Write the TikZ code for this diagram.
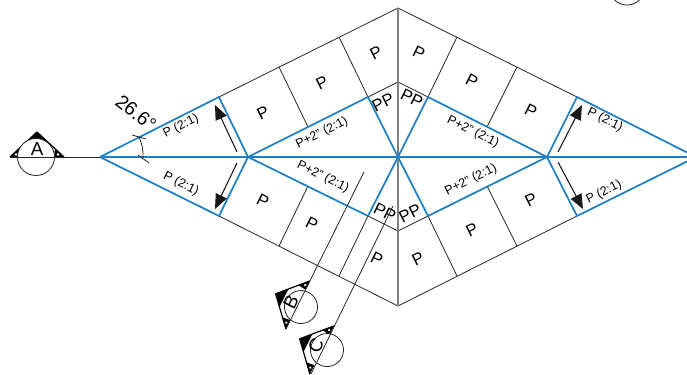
\documentclass[tikz,border=0pt]{standalone}
\usepackage{fontspec}
\setmainfont{Liberation Sans}
\usetikzlibrary{arrows.meta}
\definecolor{roofblue}{HTML}{1F7FC4}
\definecolor{ridgegray}{HTML}{808080}
\tikzset{
  thinline/.style={draw=black!85,line width=0.6pt},
  blueline/.style={draw=roofblue,line width=1.3pt,line join=round},
  centerline/.style={draw=ridgegray,line width=1.2pt},
  slopearrow/.style={draw=black!90,line width=0.8pt,-{Triangle[length=11pt,width=9pt]}},
  bigP/.style={font=\fontsize{12.5}{13}\selectfont,inner sep=0pt},
  pplabel/.style={font=\fontsize{12.5}{13}\selectfont,inner sep=0pt},
  slopelabel/.style={font=\fontsize{9.4}{10}\selectfont,inner sep=0pt},
  markletter/.style={font=\fontsize{14}{14}\selectfont,inner sep=0pt},
}
% local section mark: base on the x axis, apex upward
\newcommand{\secmark}[4]{%
  \begin{scope}[shift={(#1)},rotate=#2]
    \draw[black,line width=0.9pt,fill=white,line join=round] (-27,0) -- (0,-25) -- (27,0);
    \fill[black] (0,-25) -- (-10,-15.7) -- (10,-15.7) -- cycle;
    \fill[black] (-27,0) -- (-18,-8.4) -- (-17,0) -- cycle;
    \fill[black] (27,0) -- (18,-8.4) -- (17,0) -- cycle;
    \fill[white] (-21,-2.5) circle (1.3) (21,-2.5) circle (1.3);
    \draw[black!85,line width=0.6pt,fill=white] (#3) circle (#4);
  \end{scope}}
\begin{document}
\begin{tikzpicture}[x=0.75pt,y=-0.75pt]
\useasboundingbox (0,0) rectangle (687,375);
\clip (0,0) rectangle (687,375);
% key points
\coordinate (W) at (100,157);
\coordinate (IL) at (248,157);
\coordinate (Cn) at (398,157);
\coordinate (IR) at (547,157);
\coordinate (E) at (696,157);
\coordinate (T) at (398,8);
\coordinate (Bt) at (398,306);
\coordinate (UA) at (219,97);
\coordinate (UB) at (368,97);
\coordinate (UC) at (428,97);
\coordinate (UD) at (577,97);
\coordinate (LA) at (219,216);
\coordinate (LB) at (368,216);
\coordinate (LC) at (428,216);
\coordinate (LD) at (577,216);
\coordinate (UM) at (398,82);
\coordinate (LM) at (398,231);
\coordinate (Ax) at (10,157);
% section marks
\secmark{37,157}{0}{-1,0}{18.5}
\secmark{298,305}{63.4}{-0.5,3.6}{16.5}
\secmark{322,350}{63.4}{2.2,4.5}{16.5}
\coordinate (TRc) at (627,-13);
\draw[thinline] (TRc) circle (18);
% outline
\draw[thinline] (UA) -- (T) -- (UD);
\draw[thinline] (LA) -- (Bt) -- (LD);
\draw[thinline] (UB) -- (UM) -- (UC);
\draw[thinline] (LB) -- (LM) -- (LC);
% valleys
\coordinate (r1a) at (279,67); \coordinate (r1b) at (308,127);
\coordinate (r2a) at (339,37); 
\coordinate (r3a) at (457,37); 
\coordinate (r4a) at (517,67); \coordinate (r4b) at (487,127);
\coordinate (s1a) at (279,246); \coordinate (s1b) at (308,186);
\coordinate (s2a) at (339,276);
\coordinate (s3a) at (457,276);
\coordinate (s4a) at (517,246); \coordinate (s4b) at (487,186);
\draw[thinline] (r1a) -- (r1b) (r2a) -- (UB) (r3a) -- (UC) (r4a) -- (r4b);
\draw[thinline] (s1a) -- (s1b) (s2a) -- (LB) (s3a) -- (LC) (s4a) -- (s4b);
% axes
\draw[thinline] (Ax) -- (W);
\draw[centerline] (T) -- (Bt);
% blue roof lines
\draw[blueline] (W) -- (E);
\draw[blueline] (W) -- (UA) -- (IL) -- (UB) -- (Cn) -- (UC) -- (IR) -- (UD) -- (E);
\draw[blueline] (W) -- (LA) -- (IL) -- (LB) -- (Cn) -- (LC) -- (IR) -- (LD) -- (E);
% section lines
\coordinate (Ba) at (364,172); \coordinate (Bb) at (286,329);
\coordinate (Ca) at (393,206); \coordinate (Cb) at (311,374);
\draw[thinline] (Ba) -- (Bb);
\draw[thinline] (Ca) -- (Cb);
% slope arrows
\coordinate (a1s) at (237,152); \coordinate (a1e) at (215,105);
\coordinate (a2s) at (237,163); \coordinate (a2e) at (215,209);
\coordinate (a3s) at (558,152); \coordinate (a3e) at (582,105);
\coordinate (a4s) at (558,162); \coordinate (a4e) at (583,209);
\draw[slopearrow] (a1s) -- (a1e);
\draw[slopearrow] (a2s) -- (a2e);
\draw[slopearrow] (a3s) -- (a3e);
\draw[slopearrow] (a4s) -- (a4e);
% angle mark
\coordinate (t1a) at (132,135); \coordinate (t1b) at (146,139);
\coordinate (t2a) at (138,155); \coordinate (t2b) at (149,163);
\coordinate (ta) at (139,137); \coordinate (tb) at (143,157);
\draw[thinline] (t1a) -- (t1b);
\draw[thinline] (t2a) -- (t2b);
\draw[thinline] (ta) to[bend left=12] (tb);
% labels
\node[font=\fontsize{14.5}{15}\selectfont,inner sep=0pt,rotate=-38] (ang) at (136,113) {26.6°};
\node[markletter] (lA) at (37,149) {A};
\node[markletter,rotate=63.4] (lB) at (291,302) {B};
\node[markletter,rotate=63.4] (lC) at (316,346) {C};
\node[slopelabel,rotate=26.6] (p1) at (181,126) {P (2:1)};
\node[slopelabel,rotate=-26.6] (p2) at (181,184) {P (2:1)};
\node[slopelabel,rotate=-26.6] (p3) at (605,120) {P (2:1)};
\node[slopelabel,rotate=26.6] (p4) at (604,192) {P (2:1)};
\node[slopelabel,rotate=26.6] (q1) at (322,133) {P+2" (2:1)};
\node[slopelabel,rotate=-26.6] (q2) at (323,177) {P+2" (2:1)};
\node[slopelabel,rotate=-26.6] (q3) at (473,132) {P+2" (2:1)};
\node[slopelabel,rotate=26.6] (q4) at (471,180) {P+2" (2:1)};
\node[bigP,rotate=26.6] (a1) at (263,113) {P};
\node[bigP,rotate=26.6] (a2) at (322,83) {P};
\node[bigP,rotate=26.6] (a3) at (376,53) {P};
\node[bigP,rotate=-26.6] (a4) at (419,53) {P};
\node[bigP,rotate=-26.6] (a5) at (472,81) {P};
\node[bigP,rotate=-26.6] (a6) at (531,111) {P};
\node[bigP,rotate=-26.6] (b1) at (263,201) {P};
\node[bigP,rotate=-26.6] (b2) at (312,224) {P};
\node[bigP,rotate=-26.6] (b3) at (377,259) {P};
\node[bigP,rotate=26.6] (b4) at (418,259) {P};
\node[bigP,rotate=26.6] (b5) at (472,230) {P};
\node[bigP,rotate=26.6] (b6) at (531,200) {P};
\node[pplabel,rotate=26.6] (c1) at (383,102) {PP};
\node[pplabel,rotate=-26.6] (c2) at (412,98) {PP};
\node[pplabel,rotate=-26.6] (c3) at (385,212) {PP};
\node[pplabel,rotate=26.6] (c4) at (410,213) {PP};
\end{tikzpicture}
\end{document}
